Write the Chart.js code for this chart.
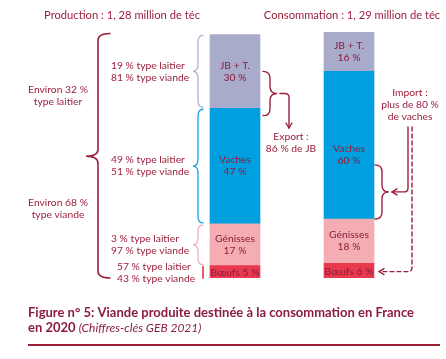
<!DOCTYPE html>
<html><head><meta charset="utf-8">
<script src="https://cdn.jsdelivr.net/npm/chart.js@4"></script>
<style>html,body{margin:0;padding:0;background:#fff}#wrap{width:446px;height:359px;position:relative}</style>
</head><body><div id="wrap"><canvas id="c" width="446" height="359"></canvas></div>
<script>
const categories = ['Production', 'Consommation'];
const segmentNames = ['Bœufs', 'Génisses', 'Vaches', 'JB + T.'];
const boeufs = [5, 6];
const genisses = [17, 18];
const vaches = [47, 60];
const jbt = [30, 16];
const titles = ['Production : 1, 28 million de téc', 'Consommation : 1, 29 million de téc'];
// production shares by segment order: Bœufs, Génisses, Vaches, JB + T.
const laitierShare = [57, 3, 49, 19];
const viandeShare = [43, 97, 51, 81];
const totalLaitier = 32;
const totalViande = 68;
const exportJB = 86;
const importVaches = 80;

const DARK = '#9c1f3c';
const segColors = ['#e8394f', '#f4aeb3', '#009fdf', '#a8abca'];
const braceColors = ['#e8596c', '#f4aeb3', '#19a3e0', '#b0b3cf'];
const FONT = 'Lato, "Open Sans", sans-serif';

function brace(ctx, xTip, xCusp, y1, y2, ym) {
  const xs = (xTip + xCusp) / 2;
  const r = Math.min(7, (y2 - y1) / 5);
  ctx.beginPath();
  ctx.moveTo(xTip, y1);
  ctx.quadraticCurveTo(xs, y1, xs, y1 + r);
  ctx.lineTo(xs, ym - r);
  ctx.quadraticCurveTo(xs, ym, xCusp, ym);
  ctx.quadraticCurveTo(xs, ym, xs, ym + r);
  ctx.lineTo(xs, y2 - r);
  ctx.quadraticCurveTo(xs, y2, xTip, y2);
  ctx.stroke();
}
function arrowHead(ctx, x, y, dir) {
  ctx.beginPath();
  if (dir === 'down') { ctx.moveTo(x - 3, y - 5); ctx.lineTo(x, y); ctx.lineTo(x + 3, y - 5); }
  else { ctx.moveTo(x + 5, y - 3); ctx.lineTo(x, y); ctx.lineTo(x + 5, y + 3); }
  ctx.stroke();
}
function lines(ctx, arr, x, yc, lh) {
  const n = arr.length;
  arr.forEach((t, i) => ctx.fillText(t, x, yc + (i - (n - 1) / 2) * lh));
}

const overlay = {
  id: 'overlay',
  afterDatasetsDraw(chart) {
    const ctx = chart.ctx;
    const ys = chart.scales.y;
    ctx.save();
    ctx.textAlign = 'center';
    ctx.textBaseline = 'middle';
    ctx.fillStyle = '#8e1b3b';
    ctx.font = '10.3px ' + FONT;
    chart.data.datasets.forEach((ds, di) => {
      const meta = chart.getDatasetMeta(di);
      meta.data.forEach((bar, i) => {
        const yc = (bar.y + bar.base) / 2;
        const v = ds.data[i] + ' %';
        if (di === 0) lines(ctx, [segmentNames[di] + ' ' + v], bar.x, yc + 1, 12);
        else lines(ctx, [segmentNames[di], v], bar.x, yc + (di === 2 && i === 1 ? 10 : 0), 12);
      });
    });

    // titles
    const m0 = chart.getDatasetMeta(0).data, m1 = chart.getDatasetMeta(1).data,
          m2 = chart.getDatasetMeta(2).data, m3 = chart.getDatasetMeta(3).data;
    ctx.fillStyle = DARK;
    ctx.font = '11.2px ' + FONT;
    ctx.fillText(titles[0], 122, 15);
    ctx.fillText(titles[1], m0[1].x + 3, 15);

    // production side braces
    const top1 = m3[0].y, bot1 = m0[0].base;
    const segs = [m0[0], m1[0], m2[0], m3[0]];
    ctx.lineWidth = 1.3;
    ctx.lineCap = 'round';
    for (let s = 1; s < 4; s++) {
      ctx.strokeStyle = braceColors[s];
      const b = segs[s];
      brace(ctx, 203, 193, b.y + 1, b.base - 1, (b.y + b.base) / 2);
    }
    ctx.strokeStyle = braceColors[0];
    ctx.lineWidth = 2;
    ctx.beginPath(); ctx.moveTo(203, segs[0].y + 1); ctx.lineTo(203, segs[0].base); ctx.stroke();

    ctx.fillStyle = DARK;
    ctx.font = '10.3px ' + FONT;
    ctx.textAlign = 'left';
    for (let s = 0; s < 4; s++) {
      const b = segs[s];
      const x = s === 0 ? 117 : 111;
      const yc = (b.y + b.base) / 2 + (s === 0 ? 1 : 0);
      lines(ctx, [laitierShare[s] + ' % type laitier', viandeShare[s] + ' % type viande'], x, yc, 12);
    }

    // big brace
    ctx.strokeStyle = DARK;
    ctx.lineWidth = 1.6;
    brace(ctx, 110, 86, top1 - 1, bot1, (top1 + bot1) / 2);
    ctx.textAlign = 'center';
    lines(ctx, ['Environ ' + totalLaitier + ' %', 'type laitier'], 58, ys.getPixelForValue(74), 12);
    lines(ctx, ['Environ ' + totalViande + ' %', 'type viande'], 58, ys.getPixelForValue(28), 12);

    // export brace & arrow
    ctx.lineWidth = 1.4;
    const eTop = ys.getPixelForValue(84), eBot = ys.getPixelForValue(66);
    const eMid = (eTop + eBot) / 2;
    brace(ctx, 263, 277, eTop, eBot, eMid);
    ctx.beginPath();
    ctx.moveTo(280, eMid); ctx.lineTo(285, eMid);
    ctx.quadraticCurveTo(289, eMid, 289, eMid + 4);
    ctx.lineTo(289, 128); ctx.stroke();
    arrowHead(ctx, 289, 128, 'down');
    ctx.fillStyle = DARK;
    lines(ctx, ['Export :', exportJB + ' % de JB'], 291, 143, 12);

    // import brace & arrows
    const iTop = ys.getPixelForValue(46), iBot = ys.getPixelForValue(24);
    const iMid = (iTop + iBot) / 2;
    brace(ctx, 375, 389, iTop, iBot, iMid);
    ctx.beginPath();
    ctx.moveTo(408, 127); ctx.lineTo(408, iMid - 4);
    ctx.quadraticCurveTo(408, iMid, 404, iMid);
    ctx.lineTo(392, iMid); ctx.stroke();
    arrowHead(ctx, 392, iMid, 'left');
    const bY = (m0[1].y + m0[1].base) / 2 + 1;
    ctx.setLineDash([4, 3]);
    ctx.beginPath();
    ctx.moveTo(412, 127); ctx.lineTo(412, bY - 4);
    ctx.quadraticCurveTo(412, bY, 408, bY);
    ctx.lineTo(380, bY); ctx.stroke();
    ctx.setLineDash([]);
    arrowHead(ctx, 379, bY, 'left');
    lines(ctx, ['Import :', 'plus de ' + importVaches + ' %', 'de vaches'], 410, 105, 12);

    // caption
    ctx.textAlign = 'left';
    ctx.fillStyle = '#8a1d3f';
    ctx.font = 'bold 13px ' + FONT;
    ctx.fillText('Figure n° 5: Viande produite destinée à la consommation en France', 28, 313);
    const p = 'en 2020 ';
    ctx.fillText(p, 28, 328);
    const w = ctx.measureText(p).width;
    ctx.font = 'italic 12px ' + FONT;
    ctx.fillText('(Chiffres-clés GEB 2021)', 28 + w, 328);
    ctx.fillStyle = '#9c1f35';
    ctx.fillRect(28, 344, 412, 2);
    ctx.restore();
  }
};

new Chart(document.getElementById('c'), {
  type: 'bar',
  data: {
    labels: categories,
    datasets: [
      { label: segmentNames[0], data: boeufs, backgroundColor: segColors[0] },
      { label: segmentNames[1], data: genisses, backgroundColor: segColors[1] },
      { label: segmentNames[2], data: vaches, backgroundColor: segColors[2] },
      { label: segmentNames[3], data: jbt, backgroundColor: segColors[3] }
    ]
  },
  options: {
    responsive: false,
    animation: false,
    events: [],
    datasets: { bar: { barThickness: 50, borderWidth: 0, stack: 's' } },
    layout: { padding: { left: 178, right: 40, top: 32, bottom: 81 } },
    plugins: { legend: { display: false }, tooltip: { enabled: false } },
    scales: {
      x: { display: false, stacked: true, offset: true },
      y: { display: false, stacked: true, min: 0, max: 100 }
    }
  },
  plugins: [overlay]
});
</script>
</body></html>
